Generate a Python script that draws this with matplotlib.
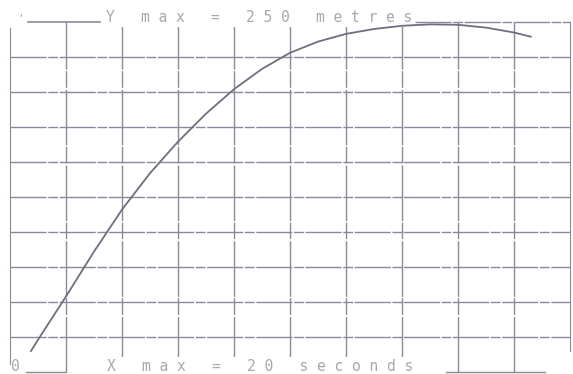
import matplotlib
matplotlib.use('Agg')
import matplotlib.pyplot as plt

# height of the rocket (metres) against time (seconds)
t_values = [0.75, 1, 2, 3, 4, 5, 6, 7, 8, 9, 10, 11, 12, 13, 14, 15,
            16, 17, 18, 18.6]
h_values = [15, 23, 54, 86, 116, 142, 164.5, 184.5, 202, 216.5, 228, 236,
            241.5, 245, 247.3, 248.3, 248, 246, 242.5, 239.5]

x_max = 20
y_max = 250
x_grid = list(range(0, 21, 2))
y_grid = list(range(0, 251, 25))

top_label = "Y   m a x   =   2 5 0   m e t r e s"
bottom_label = "X   m a x   =   2 0   s e c o n d s"

grid_col = '#8d8899'
text_col = '#a8a6b0'
curve_col = '#716c7e'

fig = plt.figure(figsize=(5.73, 3.74), dpi=100)
ax = fig.add_axes([10 / 573, 2 / 374, 560 / 573, 350 / 374])
ax.set_xlim(0, x_max)
ax.set_ylim(0, y_max)

# grid: vertical lines solid-ish, horizontal ones broken like the scan
for x in x_grid[1:-1]:
    ax.axvline(x, color=grid_col, lw=1.0, ls=(0, (40, 1.5, 12, 1)))
for y in y_grid[1:-1]:
    ax.axhline(y, color=grid_col, lw=1.0, ls=(0, (26, 1.2, 7, 1.2)))

# frame: left/right kept, top/bottom drawn in pieces around the labels
for s in ['top', 'bottom']:
    ax.spines[s].set_visible(False)
ax.spines['left'].set_color(grid_col)
ax.spines['right'].set_color(grid_col)
ax.spines['left'].set_bounds(6, 246)
ax.spines['right'].set_bounds(15, 250)
ax.axhline(y_max, xmin=18 / 560, xmax=90 / 560, color=grid_col, lw=1.2, clip_on=False)
ax.axhline(y_max, xmin=405 / 560, xmax=1.0, color=grid_col, lw=1.0,
           ls=(0, (26, 1.2, 7, 1.2)), clip_on=False)
ax.axhline(0, xmin=16 / 560, xmax=56 / 560, color=grid_col, lw=1.0, clip_on=False)
ax.axhline(0, xmin=436 / 560, xmax=535 / 560, color=grid_col, lw=1.0, clip_on=False)

# curve drawn above the white label boxes so it is not cut near the top
ax.plot(t_values, h_values, color=curve_col, lw=1.3, zorder=5)

box = dict(facecolor='white', edgecolor='none', pad=1.5)
ax.text(3.43, y_max, top_label, family='DejaVu Sans Mono', fontsize=10.5,
        color=text_col, va='baseline', ha='left', bbox=box, zorder=4)
ax.text(3.45, 0.5, bottom_label, family='DejaVu Sans Mono', fontsize=10.5,
        color=text_col, va='baseline', ha='left', bbox=box, zorder=4)
ax.text(0.04, 0.5, "0", family='DejaVu Sans Mono', fontsize=10.5,
        color=text_col, va='baseline', ha='left', zorder=4)
ax.text(0.25, y_max + 1, "'", family='DejaVu Sans Mono', fontsize=8,
        color=text_col, va='baseline', ha='left', zorder=4)

ax.set_xticks([])
ax.set_yticks([])

fig.savefig('out.png', dpi=100)
